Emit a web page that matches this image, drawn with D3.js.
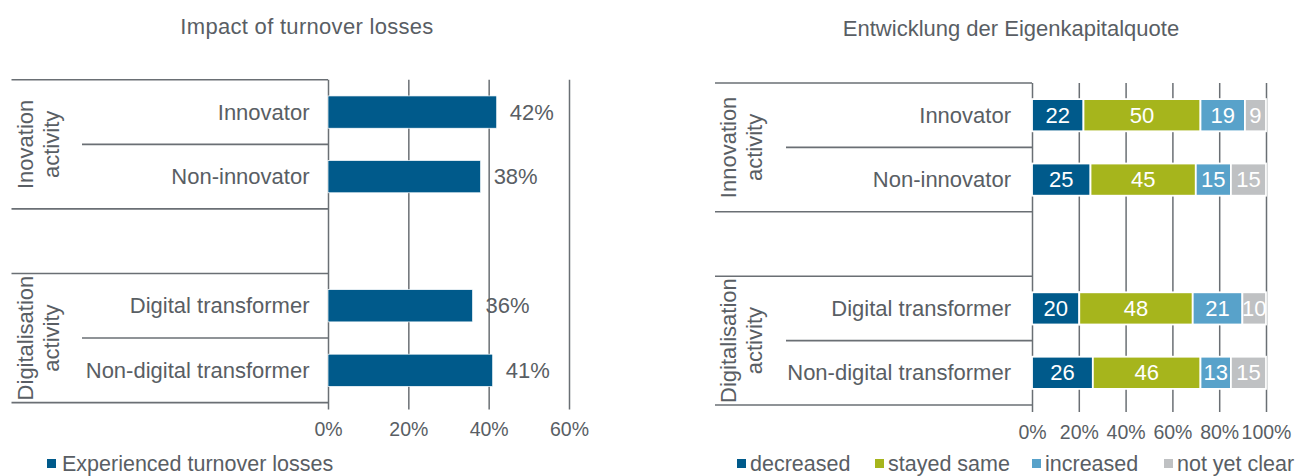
<!DOCTYPE html>
<html>
<head>
<meta charset="utf-8">
<script src="https://cdn.jsdelivr.net/npm/d3@7"></script>
<style>
  html, body { margin: 0; padding: 0; background: #fff; }
  svg { display: block; }
  text { font-family: "Liberation Sans", Arial, sans-serif; }
</style>
</head>
<body>
<svg id="chart" width="1298" height="476"></svg>
<script>
// ---- data ----
const categories = ["Innovator", "Non-innovator", "", "Digital transformer", "Non-digital transformer"];

// left panel: share of firms with turnover losses (%)
const turnoverLosses = [42, 38, null, 36, 41];
const leftTicks = [0, 20, 40, 60];
const leftGroupLabels = [["Inovation", "activity"], ["Digitalisation", "activity"]];

// right panel: development of the equity ratio (%)
const seriesNames = ["decreased", "stayed same", "increased", "not yet clear"];
const decreased   = [22, 25, null, 20, 26];
const stayedSame  = [50, 45, null, 48, 46];
const increased   = [19, 15, null, 21, 13];
const notYetClear = [9, 15, null, 10, 15];
const rightTicks = [0, 0.2, 0.4, 0.6, 0.8, 1];
const rightGroupLabels = [["Innovation", "activity"], ["Digitalisation", "activity"]];

// band index ranges of the two groups
const groupSpans = [[0, 1], [3, 4]];

// ---- styles ----
const TEXT = "#595e64";
const LINE = "#6a6f74";
const seriesColors = ["#005a8b", "#a6b51c", "#58a2ca", "#bfc1c3"];
const FONT = 22;
const LEGEND_FONT = 21.5;

const svg = d3.select("#chart");

function panel(opts) {
  const g = svg.append("g");
  const y = d3.scaleBand()
    .domain(d3.range(categories.length))
    .range([opts.top, opts.bottom])
    .paddingInner(0.5)
    .paddingOuter(0.25);
  const step = y.step();
  const boundary = i => opts.top + i * step;

  // title
  g.append("text")
    .attr("x", opts.titleX).attr("y", opts.titleY)
    .attr("text-anchor", "middle")
    .attr("font-size", FONT)
    .attr("letter-spacing", opts.titleSpacing || 0)
    .attr("fill", TEXT)
    .text(opts.title);

  // horizontal separators of the category column
  const inner = new Set();
  groupSpans.forEach(([a, b]) => { for (let i = a + 1; i <= b; i++) inner.add(i); });
  d3.range(categories.length + 1).forEach(i => {
    g.append("line")
      .attr("x1", inner.has(i) ? opts.innerX : opts.outerX)
      .attr("x2", opts.x.range()[0])
      .attr("y1", boundary(i)).attr("y2", boundary(i))
      .attr("stroke", LINE).attr("stroke-width", 1.6);
  });

  // axis with full-height gridlines
  const axis = d3.axisBottom(opts.x)
    .tickValues(opts.ticks)
    .tickFormat(opts.tickFormat)
    .tickSize(opts.bottom - opts.top + 7)
    .tickPadding(13);
  const ag = g.append("g").attr("transform", `translate(0,${opts.top})`).call(axis);
  ag.select(".domain").remove();
  ag.selectAll(".tick line").attr("stroke", LINE).attr("stroke-width", 1.5);
  ag.selectAll(".tick text")
    .attr("fill", TEXT)
    .attr("font-size", 19.5)
    .attr("font-family", "'Liberation Sans', Arial, sans-serif");

  // category labels
  g.selectAll("text.cat")
    .data(categories)
    .join("text")
    .attr("class", "cat")
    .attr("x", opts.x.range()[0] - opts.labelGap)
    .attr("y", (d, i) => y(i) + y.bandwidth() / 2)
    .attr("text-anchor", "end")
    .attr("dominant-baseline", "central")
    .attr("font-size", FONT)
    .attr("fill", TEXT)
    .text(d => d);

  // rotated group labels
  groupSpans.forEach(([a, b], gi) => {
    const cy = (boundary(a) + boundary(b + 1)) / 2;
    const t = g.append("text")
      .attr("transform", `translate(${opts.groupX},${cy}) rotate(-90)`)
      .attr("text-anchor", "middle")
      .attr("font-size", FONT)
      .attr("fill", TEXT);
    opts.groupLabels[gi].forEach((line, li) => {
      t.append("tspan")
        .attr("x", 0)
        .attr("y", (li - 0.5) * 26)
        .attr("dominant-baseline", "central")
        .text(line);
    });
  });

  return { g, y };
}

// ---- left panel ----
const xL = d3.scaleLinear().domain([0, 60]).range([328, 569]);
const left = panel({
  title: "Impact of turnover losses", titleX: 307, titleY: 34, titleSpacing: 0.3,
  top: 79.8, bottom: 402.6, x: xL, ticks: leftTicks,
  tickFormat: d => d + "%",
  outerX: 11.5, innerX: 82, labelGap: 18.5, groupX: 38,
  groupLabels: leftGroupLabels
});

const leftRows = turnoverLosses.map((v, i) => ({ i, v })).filter(d => d.v != null);
left.g.selectAll("rect.bar")
  .data(leftRows)
  .join("rect")
  .attr("class", "bar")
  .attr("x", xL(0))
  .attr("y", d => left.y(d.i))
  .attr("width", d => xL(d.v) - xL(0))
  .attr("height", left.y.bandwidth())
  .attr("fill", seriesColors[0])
  .attr("stroke", "#ffffff").attr("stroke-width", 0.7);

left.g.selectAll("text.val")
  .data(leftRows)
  .join("text")
  .attr("class", "val")
  .attr("x", d => xL(d.v) + 13)
  .attr("y", d => left.y(d.i) + left.y.bandwidth() / 2)
  .attr("dominant-baseline", "central")
  .attr("font-size", FONT)
  .attr("fill", TEXT)
  .text(d => d.v + "%");

// legend (left)
left.g.append("rect").attr("x", 47).attr("y", 459).attr("width", 9).attr("height", 9).attr("fill", seriesColors[0]);
left.g.append("text").attr("x", 62).attr("y", 463.5).attr("dominant-baseline", "central")
  .attr("font-size", LEGEND_FONT).attr("fill", TEXT).text("Experienced turnover losses");

// ---- right panel ----
const xR = d3.scaleLinear().domain([0, 1]).range([1032, 1266]);
const right = panel({
  title: "Entwicklung der Eigenkapitalquote", titleX: 1011, titleY: 36,
  top: 83, bottom: 405, x: xR, ticks: rightTicks,
  tickFormat: d3.format(".0%"),
  outerX: 715, innerX: 786, labelGap: 21, groupX: 741.5,
  groupLabels: rightGroupLabels
});

const rightRows = categories.map((c, i) => ({
  i,
  "decreased": decreased[i],
  "stayed same": stayedSame[i],
  "increased": increased[i],
  "not yet clear": notYetClear[i]
})).filter(d => d.decreased != null);

const stacked = d3.stack().keys(seriesNames).offset(d3.stackOffsetExpand)(rightRows);

const layers = right.g.selectAll("g.layer")
  .data(stacked)
  .join("g")
  .attr("class", "layer")
  .attr("fill", (d, k) => seriesColors[k]);

layers.selectAll("rect")
  .data(d => d.map(s => ({ s, key: d.key })))
  .join("rect")
  .attr("x", d => xR(d.s[0]))
  .attr("y", d => right.y(d.s.data.i))
  .attr("width", d => xR(d.s[1]) - xR(d.s[0]))
  .attr("height", right.y.bandwidth())
  .attr("stroke", "#ffffff").attr("stroke-width", 1.8);

layers.selectAll("text")
  .data(d => d.map(s => ({ s, key: d.key })))
  .join("text")
  .attr("x", d => (xR(d.s[0]) + xR(d.s[1])) / 2)
  .attr("y", d => right.y(d.s.data.i) + right.y.bandwidth() / 2)
  .attr("text-anchor", "middle")
  .attr("dominant-baseline", "central")
  .attr("font-size", FONT)
  .attr("fill", "#ffffff")
  .text(d => d.s.data[d.key]);

// legend (right)
const legendX = [737, 875, 1032, 1164];
seriesNames.forEach((name, k) => {
  right.g.append("rect").attr("x", legendX[k]).attr("y", 459).attr("width", 9).attr("height", 9)
    .attr("fill", seriesColors[k]);
  right.g.append("text").attr("x", legendX[k] + 13).attr("y", 463.5)
    .attr("dominant-baseline", "central")
    .attr("font-size", LEGEND_FONT).attr("fill", TEXT).text(name);
});
</script>
</body>
</html>
